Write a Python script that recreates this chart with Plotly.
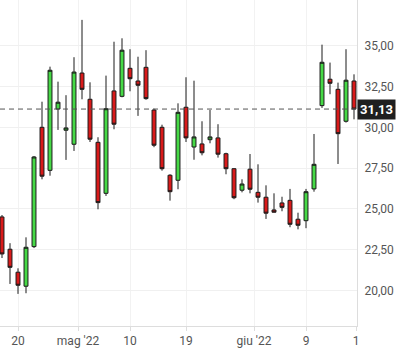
import plotly.graph_objects as go

dates = ["2022-04-14", "2022-04-19", "2022-04-20", "2022-04-21", "2022-04-22",
         "2022-04-25", "2022-04-26", "2022-04-27", "2022-04-28", "2022-04-29",
         "2022-05-02", "2022-05-03", "2022-05-04", "2022-05-05", "2022-05-06",
         "2022-05-09", "2022-05-10", "2022-05-11", "2022-05-12", "2022-05-13",
         "2022-05-16", "2022-05-17", "2022-05-18", "2022-05-19", "2022-05-20",
         "2022-05-23", "2022-05-24", "2022-05-25", "2022-05-26", "2022-05-27",
         "2022-05-30", "2022-05-31", "2022-06-01", "2022-06-02", "2022-06-03",
         "2022-06-06", "2022-06-07", "2022-06-08", "2022-06-09", "2022-06-10",
         "2022-06-13", "2022-06-14", "2022-06-15", "2022-06-16", "2022-06-17"]

open_ = [24.51, 22.53, 21.12, 20.26, 22.69, 30.01, 27.37, 31.13, 29.83, 28.97,
         33.34, 31.73, 29.09, 25.96, 32.24, 31.91, 33.63, 32.85, 33.69, 31.07,
         30.01, 27.07, 26.76, 31.24, 28.80, 28.99, 29.25, 29.36, 28.39, 27.47,
         26.15, 27.44, 26.02, 25.72, 24.94, 25.37, 25.53, 24.37, 24.28, 26.23,
         31.34, 32.96, 32.34, 30.38, 32.85]
high = [24.63, 22.90, 21.36, 23.26, 28.25, 31.58, 33.73, 32.81, 31.98, 34.31,
        36.60, 32.77, 29.40, 33.18, 35.26, 35.47, 34.80, 34.34, 34.74, 31.15,
        30.17, 27.13, 31.48, 33.08, 32.87, 30.38, 31.07, 30.20, 28.45, 27.50,
        26.82, 28.37, 27.74, 26.45, 25.96, 25.75, 26.23, 24.77, 26.23, 29.60,
        35.08, 33.98, 32.75, 34.80, 33.26]
low = [21.99, 20.40, 19.79, 19.83, 22.60, 26.82, 27.04, 29.85, 28.01, 28.56,
       31.73, 29.11, 24.98, 25.80, 29.89, 31.85, 32.22, 30.71, 31.70, 28.79,
       27.35, 25.51, 26.21, 29.11, 28.02, 28.29, 29.03, 28.15, 27.13, 25.60,
       26.02, 25.96, 25.39, 24.39, 24.78, 24.86, 23.88, 23.75, 23.82, 26.06,
       31.20, 32.04, 27.76, 30.30, 30.50]
close = [22.24, 21.42, 20.32, 22.65, 28.19, 27.01, 33.51, 31.55, 29.97, 33.40,
         32.34, 29.28, 25.39, 31.15, 30.20, 34.74, 32.99, 32.59, 31.77, 28.91,
         27.47, 26.06, 30.93, 29.36, 29.42, 28.45, 29.42, 28.36, 27.47, 25.69,
         26.53, 26.21, 25.72, 24.74, 24.80, 25.10, 24.06, 24.00, 26.06, 27.74,
         34.00, 32.71, 29.62, 32.90, 31.13]

x_labels = ["20", "mag '22", "10", "19", "giu '22", "9", "1"]
x_label_dates = ["2022-04-20", "2022-05-02", "2022-05-10", "2022-05-19",
                 "2022-06-01", "2022-06-09", "2022-06-17"]
x_label_shift = [0, -0.5, 0, 0, -0.5, 0, 0.25]

y_ticks = [20, 22.5, 25, 27.5, 30, 32.5, 35]
y_labels = ["20,00", "22,50", "25,00", "27,50", "30,00", "32,50", "35,00"]

last_price = close[-1]
last_label = "31,13"

idx = list(range(len(dates)))
tickvals = [dates.index(d) + s for d, s in zip(x_label_dates, x_label_shift)]

fig = go.Figure()
fig.add_trace(go.Candlestick(
    x=idx, open=open_, high=high, low=low, close=close,
    increasing=dict(fillcolor="#46d946", line=dict(color="#1a1a1a", width=1)),
    decreasing=dict(fillcolor="#d91a1a", line=dict(color="#1a1a1a", width=1)),
    whiskerwidth=0, showlegend=False, hoverinfo="skip",
))

fig.add_shape(type="line", xref="paper", x0=0, x1=1, yref="y",
              y0=last_price, y1=last_price,
              line=dict(color="#555555", width=1, dash="5px,4px"))

fig.add_annotation(xref="paper", x=1, xanchor="left", yref="y", y=last_price,
                   text="<b>" + last_label + "</b>", showarrow=False,
                   font=dict(family="Roboto", size=13, color="white"),
                   bgcolor="#1f1f1f", borderpad=2, xshift=0)

fig.update_layout(
    width=405, height=354,
    margin=dict(l=0, r=48, t=0, b=28),
    paper_bgcolor="white", plot_bgcolor="white",
    font=dict(family="Roboto", size=12, color="#555555"),
    xaxis=dict(range=[-0.25, 44.375], tickvals=tickvals, ticktext=x_labels,
               showgrid=True, gridcolor="#f2f2f2", gridwidth=1,
               showline=True, linecolor="#dddddd", linewidth=1,
               ticks="outside", ticklen=4, tickcolor="#dddddd",
               rangeslider=dict(visible=False), zeroline=False, fixedrange=True),
    yaxis=dict(side="right", range=[17.82, 37.82], tickvals=y_ticks,
               ticktext=y_labels, showgrid=True, gridcolor="#f0f0f0",
               showline=True, linecolor="#dddddd", linewidth=1,
               zeroline=False, ticks="", ticklabelstandoff=4),
)

fig.write_html("out.html")
